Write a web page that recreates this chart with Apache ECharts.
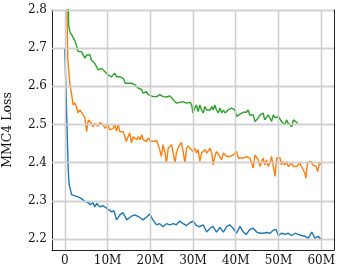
<!DOCTYPE html>
<html>
<head>
<meta charset="utf-8">
<script src="https://cdn.jsdelivr.net/npm/echarts@6/dist/echarts.min.js"></script>
<style>html,body{margin:0;padding:0;background:#fff}#c{width:340px;height:272px}</style>
</head>
<body>
<div id="c"></div>
<script>
// x in millions of steps, y = MMC4 loss
const xTicks = [0, 10, 20, 30, 40, 50, 60];
const yTicks = [2.2, 2.3, 2.4, 2.5, 2.6, 2.7, 2.8];

const blueSeries = [[0,2.70],[0.4,2.54],[0.8,2.38],[1.0,2.343],[1.2,2.334],[1.6,2.316],[2.3,2.313],[3.0,2.311],[4.0,2.305],[4.7,2.298],[5.4,2.296],[5.9,2.29],[6.6,2.295],[7.0,2.284],[7.5,2.293],[8.2,2.284],[8.9,2.287],[9.6,2.282],[10.3,2.276],[11.0,2.271],[11.5,2.274],[12.1,2.25],[12.9,2.263],[13.6,2.269],[14.5,2.25],[15.5,2.259],[16.4,2.263],[17.3,2.258],[18.3,2.25],[19.2,2.258],[19.9,2.265],[20.6,2.25],[21.5,2.237],[22.2,2.24],[23.0,2.232],[23.8,2.24],[24.6,2.237],[25.4,2.24],[26.1,2.237],[26.9,2.247],[27.7,2.24],[28.5,2.235],[29.3,2.243],[30.0,2.247],[30.8,2.235],[31.6,2.232],[32.4,2.237],[33.2,2.218],[34.0,2.228],[34.7,2.233],[35.5,2.218],[36.3,2.23],[37.1,2.218],[37.9,2.233],[38.6,2.237],[39.4,2.228],[40.2,2.215],[41.0,2.233],[41.8,2.218],[42.5,2.212],[43.3,2.225],[44.1,2.228],[44.9,2.218],[45.7,2.215],[46.4,2.215],[47.2,2.217],[48.0,2.215],[48.8,2.223],[49.4,2.225],[50.0,2.209],[50.7,2.215],[51.5,2.212],[52.3,2.215],[53.1,2.209],[53.9,2.215],[54.6,2.212],[55.4,2.209],[56.2,2.207],[57.0,2.202],[57.8,2.218],[58.5,2.202],[59.3,2.207],[59.9,2.199]];

const orangeSeries = [[0.2,3.0],[0.7,2.67],[1.2,2.604],[1.6,2.578],[1.95,2.551],[2.3,2.557],[2.7,2.547],[3.1,2.53],[3.5,2.538],[3.9,2.534],[4.3,2.525],[4.7,2.517],[5.1,2.481],[5.5,2.512],[5.9,2.508],[6.2,2.504],[6.6,2.494],[7.0,2.502],[7.4,2.503],[7.8,2.496],[8.2,2.505],[8.6,2.502],[9.0,2.499],[9.4,2.49],[9.8,2.494],[10.1,2.499],[10.5,2.486],[10.9,2.491],[11.3,2.49],[11.7,2.499],[12.1,2.483],[12.5,2.499],[12.9,2.481],[13.3,2.486],[13.7,2.481],[14.1,2.486],[14.4,2.455],[14.8,2.468],[15.2,2.478],[15.6,2.452],[16.0,2.468],[16.4,2.473],[16.8,2.46],[17.2,2.468],[17.6,2.46],[18.0,2.473],[18.3,2.46],[18.7,2.464],[19.1,2.455],[19.5,2.465],[19.9,2.458],[20.7,2.455],[21.5,2.458],[22.2,2.434],[22.6,2.416],[23.0,2.447],[23.4,2.429],[23.8,2.399],[24.2,2.438],[24.6,2.434],[25.0,2.447],[25.4,2.447],[25.8,2.399],[26.1,2.425],[26.5,2.438],[26.9,2.447],[27.3,2.453],[27.7,2.429],[28.1,2.399],[28.5,2.438],[28.9,2.444],[29.3,2.438],[29.7,2.442],[30.0,2.429],[30.4,2.438],[30.8,2.425],[31.2,2.434],[31.6,2.403],[32.0,2.425],[32.4,2.429],[32.8,2.434],[33.2,2.425],[34.0,2.438],[34.4,2.425],[34.7,2.394],[35.1,2.416],[35.5,2.429],[35.9,2.434],[36.3,2.416],[36.7,2.407],[37.1,2.425],[37.5,2.42],[37.9,2.416],[38.2,2.42],[38.6,2.416],[39.0,2.416],[39.4,2.42],[39.8,2.416],[40.2,2.429],[40.6,2.412],[41.0,2.416],[41.8,2.412],[42.5,2.416],[43.3,2.412],[44.1,2.386],[44.5,2.42],[44.9,2.425],[45.3,2.407],[45.7,2.39],[46.1,2.403],[46.4,2.412],[46.8,2.394],[47.2,2.407],[47.6,2.39],[48.0,2.399],[48.4,2.416],[48.8,2.42],[49.2,2.364],[49.6,2.412],[50.0,2.416],[50.4,2.412],[50.7,2.394],[51.1,2.403],[51.5,2.394],[51.9,2.403],[52.3,2.39],[52.7,2.394],[53.1,2.399],[53.5,2.39],[53.9,2.394],[54.3,2.39],[54.6,2.394],[55.0,2.399],[55.4,2.39],[55.8,2.386],[56.2,2.372],[56.4,2.359],[56.8,2.399],[57.2,2.394],[57.6,2.403],[58.0,2.394],[58.4,2.399],[58.8,2.39],[59.2,2.377],[59.6,2.399],[60.0,2.394]];

const greenSeries = [[0.75,2.85],[0.9,2.76],[1.2,2.743],[1.6,2.735],[1.95,2.73],[2.3,2.721],[2.7,2.708],[3.1,2.691],[3.5,2.695],[3.9,2.691],[4.3,2.687],[4.7,2.674],[5.1,2.682],[5.5,2.678],[5.9,2.682],[6.2,2.669],[6.6,2.674],[7.0,2.66],[7.4,2.652],[7.8,2.643],[8.2,2.638],[8.6,2.647],[9.0,2.652],[9.4,2.638],[9.8,2.634],[10.1,2.63],[10.5,2.63],[10.9,2.625],[11.3,2.63],[11.7,2.634],[12.1,2.625],[12.5,2.625],[12.9,2.625],[13.3,2.621],[13.7,2.621],[14.1,2.608],[14.4,2.612],[14.8,2.608],[15.6,2.608],[16.0,2.612],[16.4,2.604],[17.2,2.595],[17.6,2.591],[18.0,2.591],[18.3,2.582],[18.7,2.586],[19.1,2.586],[19.5,2.578],[19.9,2.58],[20.7,2.573],[21.5,2.573],[22.2,2.578],[23.0,2.573],[23.8,2.572],[24.6,2.575],[25.0,2.578],[25.4,2.564],[25.8,2.569],[26.1,2.556],[26.5,2.551],[26.9,2.558],[27.3,2.553],[27.7,2.56],[28.5,2.556],[29.3,2.558],[29.7,2.551],[30.0,2.53],[30.4,2.543],[30.8,2.551],[31.2,2.534],[31.6,2.551],[32.0,2.538],[32.4,2.53],[32.8,2.547],[33.2,2.538],[33.6,2.534],[34.0,2.538],[34.4,2.547],[34.7,2.538],[35.1,2.551],[35.5,2.538],[35.9,2.53],[36.3,2.543],[36.7,2.53],[37.1,2.538],[37.5,2.53],[37.9,2.534],[38.2,2.538],[38.6,2.534],[39.0,2.543],[39.4,2.538],[39.8,2.538],[40.2,2.521],[40.6,2.52],[41.0,2.527],[41.4,2.525],[41.8,2.532],[42.5,2.532],[42.9,2.538],[43.3,2.525],[43.7,2.521],[44.1,2.525],[44.5,2.508],[44.9,2.503],[45.3,2.517],[45.7,2.525],[46.1,2.521],[46.4,2.53],[46.8,2.512],[47.2,2.508],[47.6,2.525],[48.0,2.517],[48.4,2.508],[48.8,2.525],[49.2,2.517],[49.6,2.512],[50.0,2.521],[50.4,2.517],[50.7,2.508],[51.1,2.508],[51.5,2.499],[51.9,2.512],[52.3,2.503],[52.7,2.508],[53.1,2.494],[53.5,2.512],[53.9,2.508],[54.5,2.503]];

const chart = echarts.init(document.getElementById('c'), null, {renderer: 'canvas'});
const font = 'DejaVu Serif';
const gridColor = '#cfcfcf';
const frameLine = {show: true, lineStyle: {color: '#222', width: 1}};
const gridLines = xTicks.map(v => ({xAxis: v})).concat(yTicks.map(v => ({yAxis: v})));

function lineSeries(data, color) {
  return {
    type: 'line', data: data, showSymbol: false, symbol: 'none',
    lineStyle: {color: color, width: 1.4}, z: 3, clip: true, animation: false
  };
}

chart.setOption({
  animation: false,
  grid: {left: 52, right: 6, top: 10, bottom: 22, containLabel: false, outerBoundsMode: 'none', show: false},
  xAxis: [{
    type: 'value', min: -3, max: 63, position: 'bottom',
    axisLine: Object.assign({onZero: false}, frameLine),
    axisTick: {show: false, customValues: xTicks},
    splitLine: {show: true, lineStyle: {color: gridColor, width: 1.3}},
    axisLabel: {customValues: xTicks, formatter: v => v === 0 ? '0' : v + 'M', fontFamily: font, fontSize: 12, color: '#111', margin: 5}
  }, {
    type: 'value', min: -3, max: 63, position: 'top',
    axisLine: Object.assign({onZero: false}, frameLine), axisTick: {show: false}, axisLabel: {show: false}, splitLine: {show: false}
  }],
  yAxis: [{
    type: 'value', min: 2.171, max: 2.8, position: 'left',
    axisLine: Object.assign({onZero: false}, frameLine),
    axisTick: {show: false, customValues: yTicks},
    splitLine: {show: true, lineStyle: {color: gridColor, width: 1.3}},
    axisLabel: {customValues: yTicks, formatter: v => v.toFixed(1), fontFamily: font, fontSize: 12, color: '#111', margin: 5},
    name: 'MMC4 Loss', nameLocation: 'middle', nameRotate: 90, nameGap: 38,
    nameTextStyle: {fontFamily: font, fontSize: 12.5, color: '#111'}
  }, {
    type: 'value', min: 2.171, max: 2.8, position: 'right',
    axisLine: Object.assign({onZero: false}, frameLine), axisTick: {show: false}, axisLabel: {show: false}, splitLine: {show: false}
  }],
  series: [
    {
      type: 'line', name: 'gridlines', data: [[30, 2.5]], z: 1, silent: true,
      showSymbol: false, symbol: 'none', lineStyle: {width: 0, color: gridColor},
      markLine: {
        silent: true, symbol: ['none', 'none'], label: {show: false}, animation: false,
        lineStyle: {type: 'solid', color: gridColor, width: 1.3, opacity: 1},
        data: gridLines
      }
    },
    lineSeries(blueSeries, '#1f77b4'),
    lineSeries(orangeSeries, '#ff7f0e'),
    lineSeries(greenSeries, '#2ca02c')
  ]
});
</script>
</body>
</html>
